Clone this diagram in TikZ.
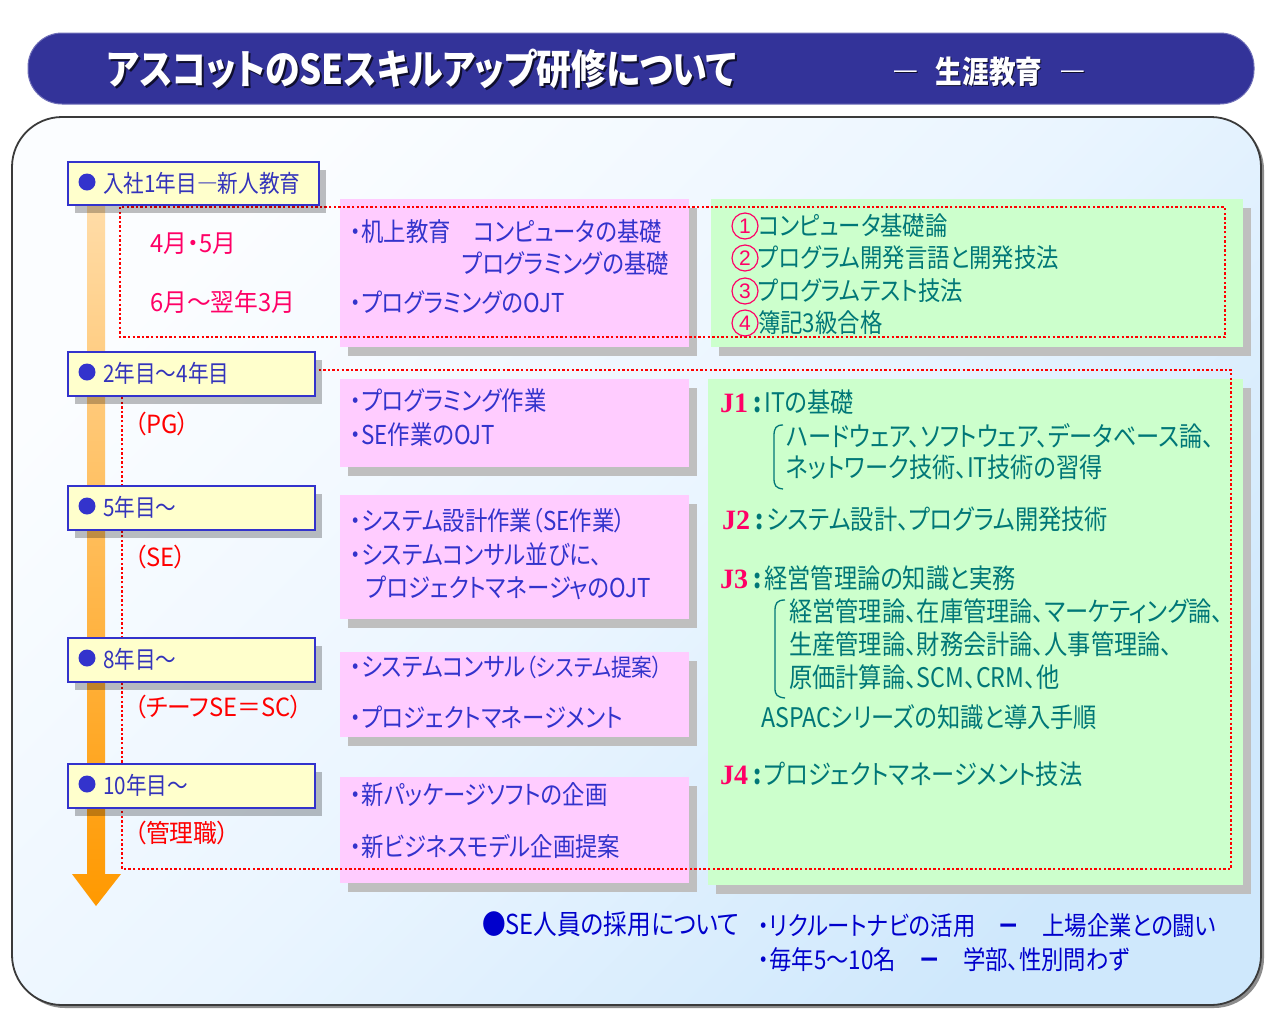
\documentclass[tikz,border=0pt]{standalone}
\usepackage{fontspec}
\usetikzlibrary{shadows}
\newfontfamily\jp[FakeStretch=0.86,RawFeature=+palt]{Noto Sans CJK JP}
\newfontfamily\jpw[FakeStretch=0.95,RawFeature=+palt]{Noto Sans CJK JP}
\newfontfamily\jpt[FakeStretch=0.85,RawFeature=+palt]{Noto Sans CJK JP}
\newfontfamily\jser{Liberation Serif}
\newfontfamily\jsans{Liberation Sans}
\definecolor{titleblue}{HTML}{333399}
\definecolor{panelborder}{HTML}{3A3A3A}
\definecolor{panelA}{HTML}{FBFDFF}
\definecolor{panelB}{HTML}{EAF5FF}
\definecolor{panelC}{HTML}{CFE8FC}
\definecolor{yfill}{HTML}{FFFFCC}
\definecolor{yborder}{HTML}{3333CC}
\definecolor{ytext}{HTML}{3333BB}
\definecolor{pfill}{HTML}{FFCCFF}
\definecolor{gfill}{HTML}{CCFFCC}
\definecolor{shadowgray}{HTML}{BFBFBF}
\definecolor{pblue}{HTML}{3333CC}
\definecolor{teal2}{HTML}{007777}
\definecolor{jred}{HTML}{FF0066}
\definecolor{red2}{HTML}{FF0000}
\definecolor{orangeL}{HTML}{FFDCA8}
\definecolor{orangeD}{HTML}{FF9900}
\definecolor{recblue}{HTML}{0000CC}
\begin{document}
\begin{tikzpicture}[x=1pt,y=-1pt,
  txt/.style={anchor=west, inner sep=0pt},
  ybox/.style={draw=yborder, line width=1.5pt, fill=yfill, inner sep=0pt, anchor=north west,
    drop shadow={shadow xshift=7pt, shadow yshift=-8pt, fill=black, opacity=0.25}},
  pbox/.style={fill=pfill, inner sep=0pt, anchor=north west,
    drop shadow={shadow xshift=8pt, shadow yshift=-9pt, fill=shadowgray, opacity=1}},
  gbox/.style={fill=gfill, inner sep=0pt, anchor=north west,
    drop shadow={shadow xshift=8pt, shadow yshift=-9pt, fill=shadowgray, opacity=1}},
  ytxt/.style={txt, text=ytext, font=\jp\fontsize{24}{26}\selectfont},
  ptxt/.style={txt, text=pblue, font=\jp\fontsize{26}{28}\selectfont},
  gtxt/.style={txt, text=teal2, font=\jp\fontsize{26}{28}\selectfont},
  gtxtb/.style={txt, text=teal2, font=\jp\fontsize{27}{29}\selectfont},
  circnum/.style={circle, draw=jred, line width=1.2pt, inner sep=0pt, minimum size=26pt,
    text=jred, font=\jsans\fontsize{21}{22}\selectfont},
  mtxt/.style={txt, text=jred, font=\jpw\fontsize{25}{27}\selectfont},
  rtxt/.style={txt, text=red2, font=\jpw\fontsize{25}{27}\selectfont},
  btxt/.style={txt, text=recblue, font=\jp\fontsize{26}{28}\selectfont},
  reddot/.style={draw=red2, line width=2.6pt, dash pattern=on 2.4pt off 2.2pt},
  bullet/.style={circle, fill=yborder, inner sep=0pt, minimum size=17pt},
  brack/.style={draw=teal2, line width=1.3pt}
]
\useasboundingbox (0,0) rectangle (1281,1021);
\fill[white] (0,0) rectangle (1281,1021);

% main panel
\fill[black!45, rounded corners=50pt] (15,120) rectangle (1264,1008);
\shade[rounded corners=50pt, top color=panelA, bottom color=panelC, middle color=panelB, shading angle=45]
  (12,117) rectangle (1261,1005);
\draw[panelborder, line width=1.8pt, rounded corners=50pt] (12,117) rectangle (1261,1005);

% title bar
\fill[titleblue, draw=titleblue!70!white, line width=1pt, rounded corners=34pt] (28,33) rectangle (1254,104);
\node[txt, text=black!70!titleblue, font=\jpt\bfseries\fontsize{41}{43}\selectfont] (titlesh) at (109,71) {アスコットのSEスキルアップ研修について};
\node[txt, text=white, font=\jpt\bfseries\fontsize{41}{43}\selectfont] (title) at (107,69) {アスコットのSEスキルアップ研修について};
\node[txt, text=black!70!titleblue, font=\jp\bfseries\fontsize{31}{33}\selectfont] (subsh) at (893,73) {―\hspace{17pt}生涯教育\hspace{17pt}―};
\node[txt, text=white, font=\jp\bfseries\fontsize{31}{33}\selectfont] (sub) at (892,72) {―\hspace{17pt}生涯教育\hspace{17pt}―};

% orange arrow
\shade[top color=orangeL, bottom color=orangeD]
  (87,205) -- (105,205) -- (105,874) -- (121,874) -- (96,906) -- (72,874) -- (87,874) -- cycle;

% pink boxes
\node[pbox, minimum width=349pt, minimum height=148pt] (p1) at (340,199) {};
\node[pbox, minimum width=349pt, minimum height=88pt] (p2) at (340,379) {};
\node[pbox, minimum width=349pt, minimum height=124pt] (p3) at (340,495) {};
\node[pbox, minimum width=349pt, minimum height=85pt] (p4) at (340,652) {};
\node[pbox, minimum width=349pt, minimum height=106pt] (p5) at (340,777) {};
% green boxes
\node[gbox, minimum width=532pt, minimum height=148pt] (g1) at (711,199) {};
\node[gbox, minimum width=535pt, minimum height=506pt] (g2) at (708,379) {};

% red dotted frames
\draw[reddot] (120,207) rectangle (1225,337);
\draw[reddot] (314,370) -- (1231,370) -- (1231,869) -- (122,869) -- (122,395);

% year boxes
\node[ybox, minimum width=251pt, minimum height=43pt] (y1) at (67,161) {};
\node[ybox, minimum width=247pt, minimum height=44pt] (y2) at (67,351) {};
\node[ybox, minimum width=247pt, minimum height=44pt] (y3) at (67,485) {};
\node[ybox, minimum width=247pt, minimum height=44pt] (y4) at (67,637) {};
\node[ybox, minimum width=247pt, minimum height=44pt] (y5) at (67,763) {};
\node[bullet] (b1) at (87,182) {};
\node[bullet] (b2) at (87,372) {};
\node[bullet] (b3) at (87,506) {};
\node[bullet] (b4) at (87,658) {};
\node[bullet] (b5) at (87,784) {};
\node[ytxt] (yt1) at (103,183) {入社1年目―新人教育};
\node[ytxt] (yt2) at (103,373) {2年目〜4年目};
\node[ytxt] (yt3) at (103,507) {5年目〜};
\node[ytxt] (yt4) at (103,659) {8年目〜};
\node[ytxt] (yt5) at (103,785) {10年目〜};

% left labels
\node[mtxt] (m1) at (150,244) {4月・5月};
\node[mtxt] (m2) at (150,302) {6月〜翌年3月};
\node[rtxt] (r1) at (134,424) {（PG）};
\node[rtxt] (r2) at (134,557) {（SE）};
\node[rtxt] (r3) at (134,707) {（チーフSE＝SC）};
\node[rtxt] (r4) at (134,833) {（管理職）};

% pink texts
\node[ptxt] (pt11) at (350,232) {・机上教育　コンピュータの基礎};
\node[ptxt, anchor=east] (pt12) at (669,264) {プログラミングの基礎};
\node[ptxt] (pt13) at (350,302) {・プログラミングのOJT};
\node[ptxt] (pt21) at (350,401) {・プログラミング作業};
\node[ptxt] (pt22) at (350,435) {・SE作業のOJT};
\node[ptxt] (pt31) at (350,521) {・システム設計作業（SE作業）};
\node[ptxt] (pt32) at (350,554) {・システムコンサル並びに、};
\node[ptxt] (pt33) at (366,588) {プロジェクトマネージャのOJT};
\node[ptxt] (pt41) at (350,667) {・システムコンサル{\fontsize{24}{25}\selectfont（システム提案）}};
\node[ptxt] (pt42) at (350,717) {・プロジェクトマネージメント};
\node[ptxt] (pt51) at (350,795) {・新パッケージソフトの企画};
\node[ptxt] (pt52) at (350,846) {・新ビジネスモデル企画提案};

% green box 1 texts
\node[circnum] (c1) at (745,226) {1};
\node[circnum] (c2) at (745,258) {2};
\node[circnum] (c3) at (745,291) {3};
\node[circnum] (c4) at (745,323) {4};
\node[gtxt] (g11) at (758,226) {コンピュータ基礎論};
\node[gtxt] (g12) at (758,258) {プログラム開発言語と開発技法};
\node[gtxt] (g13) at (758,291) {プログラムテスト技法};
\node[gtxt] (g14) at (758,323) {簿記3級合格};

% green box 2 texts
\node[gtxtb] (j1) at (720,402) {\textcolor{jred}{\jser\bfseries\fontsize{28}{30}\selectfont J1}\hspace{5pt}{\bfseries :}\hspace{3pt}ITの基礎};
\draw[brack] (783,425) .. controls (776,425) and (774,428) .. (774,436) -- (774,478) .. controls (774,486) and (776,488) .. (783,489);
\node[gtxtb] (j1a) at (786,436) {ハードウェア、ソフトウェア、データベース論、};
\node[gtxtb] (j1b) at (786,467) {ネットワーク技術、IT技術の習得};
\node[gtxtb] (j2) at (722,519) {\textcolor{jred}{\jser\bfseries\fontsize{28}{30}\selectfont J2}\hspace{5pt}{\bfseries :}\hspace{3pt}システム設計、プログラム開発技術};
\node[gtxtb] (j3) at (720,578) {\textcolor{jred}{\jser\bfseries\fontsize{28}{30}\selectfont J3}\hspace{5pt}{\bfseries :}\hspace{3pt}経営管理論の知識と実務};
\draw[brack] (785,600) .. controls (777,600) and (775,603) .. (775,611) -- (775,688) .. controls (775,695) and (777,697) .. (785,698);
\node[gtxtb] (j3a) at (789,611) {経営管理論、在庫管理論、マーケティング論、};
\node[gtxtb] (j3b) at (789,644) {生産管理論、財務会計論、人事管理論、};
\node[gtxtb] (j3c) at (789,677) {原価計算論、SCM、CRM、他};
\node[gtxtb] (asp) at (761,717) {ASPACシリーズの知識と導入手順};
\node[gtxtb] (j4) at (720,774) {\textcolor{jred}{\jser\bfseries\fontsize{28}{30}\selectfont J4}\hspace{5pt}{\bfseries :}\hspace{3pt}プロジェクトマネージメント技法};

% recruiting
\node[btxt, font=\jp\fontsize{27.5}{29}\selectfont] (rec) at (482,924) {●SE人員の採用について};
\node[btxt] (rec1) at (758,926) {・リクルートナビの活用　{\bfseries －}　上場企業との闘い};
\node[btxt] (rec2) at (758,960) {・毎年5〜10名　{\bfseries －}　学部、性別問わず};
\end{tikzpicture}
\end{document}
